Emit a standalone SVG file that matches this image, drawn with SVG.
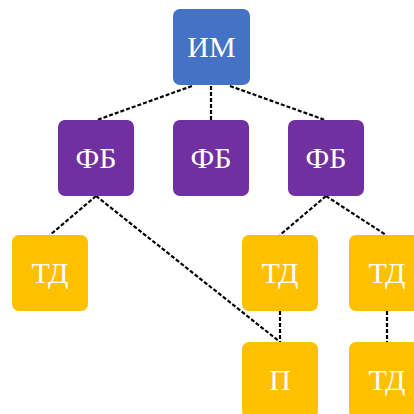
<svg xmlns="http://www.w3.org/2000/svg" width="414" height="414" viewBox="0 0 414 414">
<style>
.c{stroke:#000;stroke-width:2.2;stroke-dasharray:4 2;fill:none}
.t{font-family:"Liberation Serif","Times New Roman",serif;font-size:30px;fill:#fff;text-anchor:middle}
.b{fill:#4472C4}.p{fill:#7030A0}.y{fill:#FFC000}
</style>
<rect width="414" height="414" fill="#fff"/>
<g id="connectors">
<line class="c" x1="192" y1="86" x2="97" y2="120"/>
<line class="c" x1="211" y1="86" x2="211" y2="120"/>
<line class="c" x1="230" y1="86" x2="325" y2="120"/>
<line class="c" x1="96" y1="196" x2="50" y2="235"/>
<line class="c" x1="96" y1="196" x2="280" y2="342"/>
<line class="c" x1="326" y1="196" x2="280" y2="235"/>
<line class="c" x1="326" y1="196" x2="386" y2="235"/>
<line class="c" x1="280" y1="311" x2="280" y2="342"/>
<line class="c" x1="387" y1="311" x2="387" y2="342"/>
</g>
<g id="im"><rect class="b" x="173" y="9" width="77" height="76" rx="7"/><text class="t" x="211.5" y="57">ИМ</text></g>
<g id="fb1"><rect class="p" x="58" y="120" width="76" height="76" rx="7"/><text class="t" x="96" y="168">ФБ</text></g>
<g id="fb2"><rect class="p" x="173" y="120" width="76" height="76" rx="7"/><text class="t" x="211" y="168">ФБ</text></g>
<g id="fb3"><rect class="p" x="288" y="120" width="76" height="76" rx="7"/><text class="t" x="326" y="168">ФБ</text></g>
<g id="td1"><rect class="y" x="12" y="235" width="76" height="76" rx="7"/><text class="t" x="50" y="283">ТД</text></g>
<g id="td2"><rect class="y" x="242" y="235" width="76" height="76" rx="7"/><text class="t" x="280" y="283">ТД</text></g>
<g id="td3"><rect class="y" x="349" y="235" width="76" height="76" rx="7"/><text class="t" x="387" y="283">ТД</text></g>
<g id="p"><rect class="y" x="242" y="342" width="76" height="76" rx="7"/><text class="t" x="280" y="390">П</text></g>
<g id="td4"><rect class="y" x="349" y="342" width="76" height="76" rx="7"/><text class="t" x="387" y="390">ТД</text></g>
</svg>
